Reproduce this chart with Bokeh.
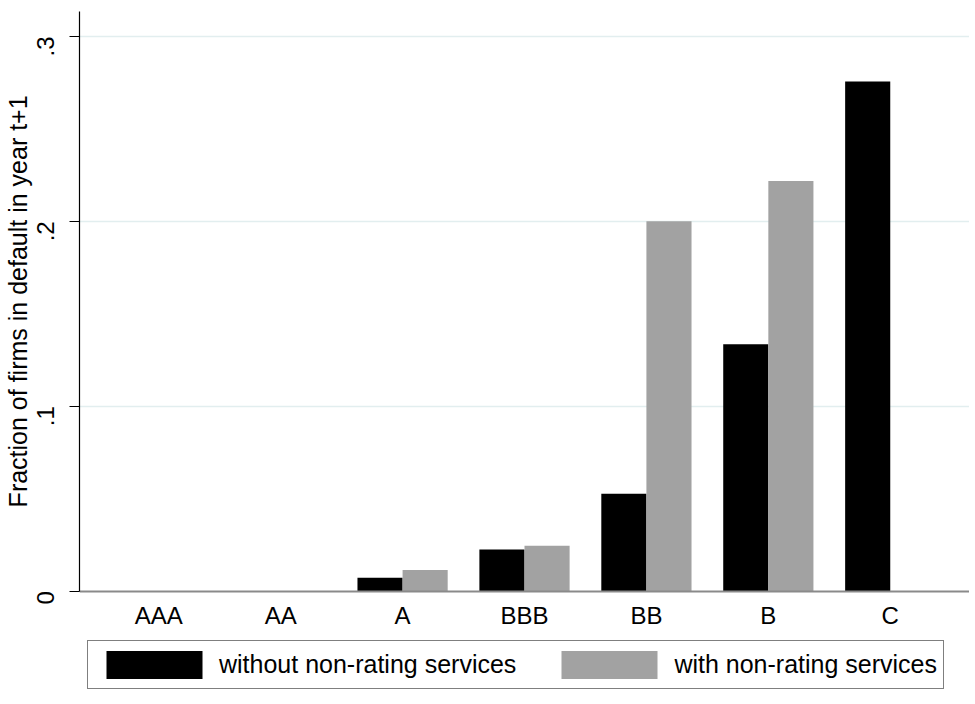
import math
from bokeh.plotting import figure
from bokeh.models import (FactorRange, Range1d, FixedTicker, CustomJSTickFormatter,
                          Legend, LegendItem, ColumnDataSource)
from bokeh.transform import dodge
from bokeh.embed import file_html
from bokeh.resources import INLINE

categories = ["AAA", "AA", "A", "BBB", "BB", "B", "C"]
without_nonrating = [0.0, 0.0, 0.0072, 0.0225, 0.0526, 0.1335, 0.2757]
with_nonrating = [0.0, 0.0, 0.0114, 0.0245, 0.2000, 0.2218, 0.0]
y_ticks = [0.0, 0.1, 0.2, 0.3]
legend_labels = ["without non-rating services", "with non-rating services"]
y_label = "Fraction of firms in default in year t+1"

FONT = "Liberation Sans"
Y_TOP = 0.3135
Y_BOTTOM = -0.0565   # blank room under the axis for the legend

src = ColumnDataSource(dict(cat=categories, wo=without_nonrating, w=with_nonrating))

p = figure(frame_width=890, frame_height=684,
           x_range=FactorRange(factors=categories, range_padding=0.15,
                               range_padding_units="absolute"),
           y_range=Range1d(Y_BOTTOM, Y_TOP),
           output_backend="svg", toolbar_location=None,
           min_border_left=70, min_border_right=0, min_border_top=11,
           min_border_bottom=0)

r1 = p.vbar(x=dodge("cat", -0.185, range=p.x_range), top="wo", width=0.37,
            source=src, fill_color="#000000", line_color=None)
r2 = p.vbar(x=dodge("cat", 0.185, range=p.x_range), top="w", width=0.37,
            source=src, fill_color="#a2a2a2", line_color=None)

p.outline_line_color = None
p.background_fill_color = "white"

# y axis
ya = p.yaxis[0]
ya.bounds = (0, Y_TOP)
ya.ticker = FixedTicker(ticks=y_ticks)
ya.formatter = CustomJSTickFormatter(
    code="return tick == 0 ? '0' : tick.toFixed(1).replace(/^0/, '');")
ya.major_label_orientation = math.pi / 2
ya.major_tick_out = 10
ya.major_tick_in = 0
ya.minor_tick_line_color = None
ya.axis_line_color = "#000000"
ya.axis_line_width = 1.2
ya.major_tick_line_color = "#000000"
ya.major_tick_line_width = 1.2
ya.major_label_text_font = FONT
ya.major_label_text_font_size = "24px"
ya.major_label_text_color = "#000000"
ya.major_label_standoff = 24
# leading no-break spaces move the centred label up over the 0..0.3 part of the axis
ya.axis_label = "\u00a0" * 15 + y_label
ya.axis_label_text_font = FONT
ya.axis_label_text_font_size = "25px"
ya.axis_label_text_font_style = "normal"
ya.axis_label_text_color = "#000000"
ya.axis_label_standoff = -6

# x axis drawn at y = 0
xa = p.xaxis[0]
xa.fixed_location = 0
xa.major_tick_line_color = None
xa.minor_tick_line_color = None
xa.axis_line_color = "#8a8a8a"
xa.axis_line_width = 2
xa.major_label_text_font = FONT
xa.major_label_text_font_size = "24px"
xa.major_label_text_color = "#000000"
xa.major_label_standoff = 5

# grid
p.xgrid.visible = False
p.ygrid.ticker = FixedTicker(ticks=y_ticks[1:])
p.ygrid.grid_line_color = "#e2eeef"
p.ygrid.grid_line_width = 1.5

legend = Legend(items=[LegendItem(label=legend_labels[0], renderers=[r1]),
                       LegendItem(label=legend_labels[1], renderers=[r2])],
                orientation="horizontal", location=(8, 6))
legend.glyph_width = 120
legend.glyph_height = 35
legend.label_standoff = 5
legend.spacing = 33
legend.padding = 6
legend.margin = 0
legend.label_text_font = FONT
legend.label_text_font_size = "25px"
legend.label_text_color = "#000000"
legend.border_line_color = "#000000"
legend.border_line_width = 1.5
legend.background_fill_color = "white"
p.add_layout(legend, "center")

open("out.html", "w").write(file_html(p, INLINE))
